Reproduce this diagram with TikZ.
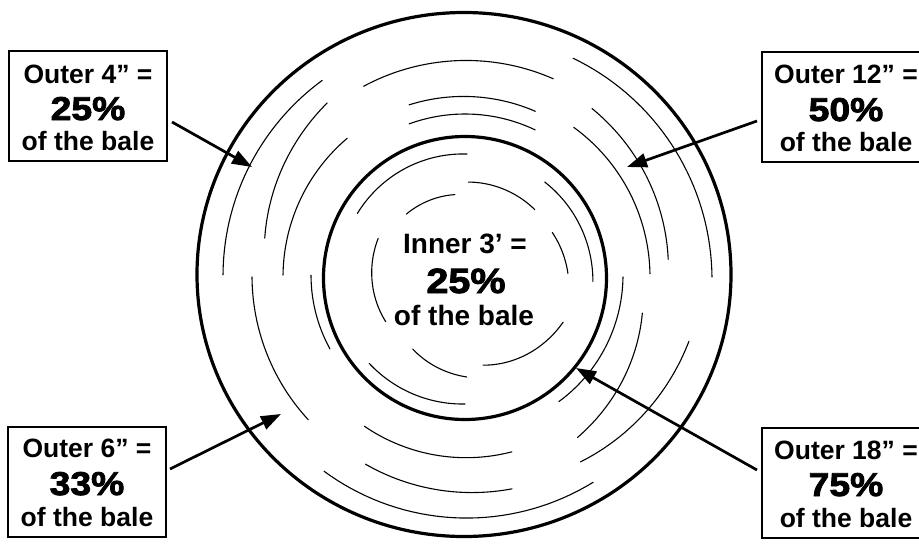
\documentclass[tikz,border=0pt]{standalone}
\usepackage{fontspec}
\setmainfont{Liberation Sans}
\newfontfamily\heavy{Liberation Sans}[BoldFeatures={FakeBold=2.5}, FakeStretch=1.13]
\usetikzlibrary{arrows.meta}
\begin{document}
\begin{tikzpicture}[x=1pt,y=-1pt,
  ring/.style={line width=1.1pt, line cap=round},
  thickc/.style={line width=3.2pt},
  lbl/.style={rectangle, draw, line width=2pt, fill=white, minimum width=158pt, minimum height=110pt, inner sep=0pt},
  rlbl/.style={lbl, minimum width=168pt},
  small/.style={font=\bfseries\fontsize{26.5}{30}\selectfont, anchor=base, inner sep=0pt},
  big/.style={font=\heavy\bfseries\fontsize{33}{36}\selectfont, anchor=base, inner sep=0pt},
  csmall/.style={font=\bfseries\fontsize{28}{32}\selectfont, anchor=base, inner sep=0pt},
  cbig/.style={font=\heavy\bfseries\fontsize{35}{38}\selectfont, anchor=base, inner sep=0pt},
  pointer/.style={line width=2.7pt, -{Triangle[length=20pt,width=14pt]}}
]
\useasboundingbox (0,0) rectangle (919,546);
\clip (0,0) rectangle (919,546);

% bale circles
\draw[thickc] (464,274.5) ellipse [x radius=267, y radius=262];
\draw[thickc] (465,278) circle [radius=141.5];

% growth rings
\foreach \a/\b/\r/\s in {
  -118/-66/216/217, -108/-67/181/180, -110/-64.5/163/163,
  -63.7/0/244/247, -53/-5/211/204, -54/-1/185/185,
  0/53/158/156, 11.5/55/181/196, 16/58/233/218,
  75/124/181/180, 77.5/118/217/212, 58/126/242/240,
  180.5/234/242/243, 191/231.6/204/222, 180.6/229.7/182/182,
  137.7/180/212/213, 152/180.7/153/154,
  210.6/271/125/123, 227/263/86/83, 272/316/95/97,
  310/362/124/128, 333/358/98/103, 150.6/204/91/95,
  24.7/78.4/108/90, 89/126/100/89, 90/138/127/129}
{
  \draw[ring] plot[domain=\a:\b, samples=36, variable=\t]
    ({465+(\r+(\s-\r)*(\t-\a)/(\b-\a))*cos(\t)},
     {277+(\r+(\s-\r)*(\t-\a)/(\b-\a))*sin(\t)});
}

% label boxes
\node[lbl]  (tl) at (88,106) {};
\node[lbl]  (bl) at (87,481.5) {};
\node[rlbl] (tr) at (846,107) {};
\node[rlbl] (br) at (846,483) {};

\node[small] (tl1) at (88,83) {Outer 4” =};
\node[big]   (tl2) at (88,120) {25\%};
\node[small] (tl3) at (88,150.5) {of the bale};

\node[small] (bl1) at (87,457.5) {Outer 6” =};
\node[big]   (bl2) at (87,495) {33\%};
\node[small] (bl3) at (87,526) {of the bale};

\node[small] (tr1) at (846,83) {Outer 12” =};
\node[big]   (tr2) at (846,121) {50\%};
\node[small] (tr3) at (846,151.5) {of the bale};

\node[small] (br1) at (846,459.5) {Outer 18” =};
\node[big]   (br2) at (846,496) {75\%};
\node[small] (br3) at (846,527) {of the bale};

% centre text
\node[csmall] (c1) at (465,253) {Inner 3’ =};
\node[cbig]   (c2) at (466,293) {25\%};
\node[csmall] (c3) at (464,325) {of the bale};

% arrows
\coordinate (tlS) at (172,122);  \coordinate (tlE) at (252,167);
\coordinate (trS) at (757,121);  \coordinate (trE) at (627,167);
\coordinate (blS) at (170,469);  \coordinate (blE) at (281,414);
\coordinate (brS) at (757,470);  \coordinate (brE) at (576,368);
\draw[pointer] (tlS) -- (tlE);
\draw[pointer] (trS) -- (trE);
\draw[pointer] (blS) -- (blE);
\draw[pointer] (brS) -- (brE);
\end{tikzpicture}
\end{document}
